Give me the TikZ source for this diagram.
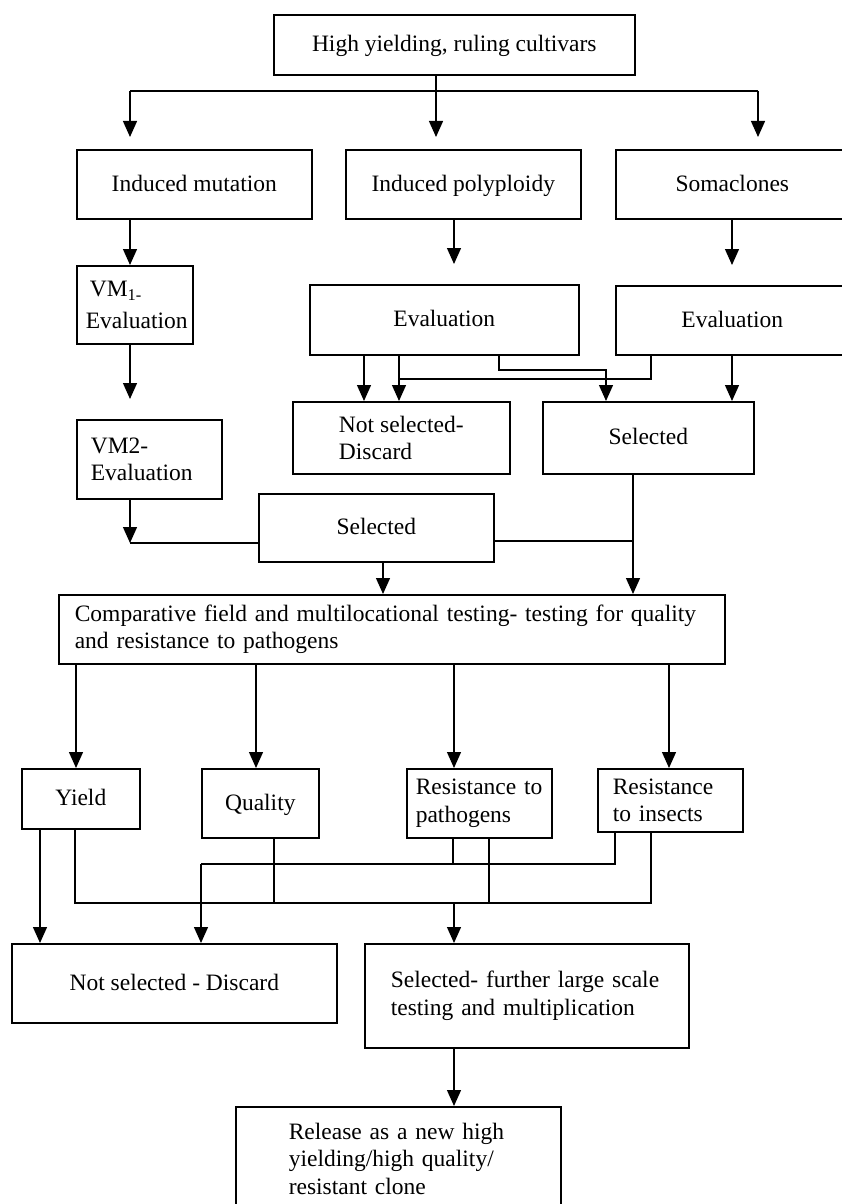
\documentclass[tikz,border=0pt]{standalone}
\usepackage{fontspec}
\setmainfont{Liberation Serif}
\usetikzlibrary{arrows.meta}
\begin{document}
\begin{tikzpicture}[x=1pt,y=-1pt,
  bx/.style={draw=black, line width=1.6pt, inner sep=0pt, anchor=north west,
    font=\fontsize{23.5}{27.5}\selectfont, align=center},
  one/.style={text height=18pt, text depth=4pt},
  ln/.style={line width=1.3pt},
  arr/.style={line width=1.3pt, -{Triangle[width=14pt,length=16pt]}}]
\useasboundingbox (0,0) rectangle (842,1204);

% boxes
\node[bx, one, minimum width=361, minimum height=60] (top) at (273,14) {High yielding, ruling cultivars};
\node[bx, one, minimum width=235, minimum height=69] (mut) at (76,149) {Induced mutation};
\node[bx, one, minimum width=235, minimum height=69] (poly) at (345,149) {Induced polyploidy};
\node[bx, one, minimum width=233, minimum height=69] (soma) at (615,149) {Somaclones};
\node[bx, minimum width=116, minimum height=78, text width=98, align=left] (vm1) at (76,265) {\hspace*{4pt}VM\textsubscript{1-}\\[4pt]Evaluation};
\node[bx, minimum width=145, minimum height=79, text width=117, align=left] (vm2) at (76,419) {VM2-\\Evaluation};
\node[bx, one, minimum width=269, minimum height=70] (evp) at (309,284) {Evaluation};
\node[bx, one, minimum width=233, minimum height=69] (evs) at (615,285) {Evaluation};
\node[bx, minimum width=217, minimum height=72, align=left] (nsd1) at (292,401) {Not selected-\\Discard};
\node[bx, one, minimum width=211, minimum height=72] (sel1) at (542,401) {Selected};
\node[bx, one, minimum width=235, minimum height=68] (sel2) at (258,493) {Selected};
\node[bx, minimum width=666, minimum height=69, text width=634, align=left] (comp) at (58,594) {Comparative field and multilocational testing- testing for quality\\and resistance to pathogens};
\node[bx, one, minimum width=118, minimum height=60] (yield) at (21,768) {Yield};
\node[bx, one, minimum width=117, minimum height=69] (qual) at (201,768) {Quality};
\node[bx, minimum width=145, minimum height=69, text width=127, align=left] (rp) at (406,768) {Resistance to\\pathogens};
\node[bx, minimum width=145, minimum height=63, text width=115, align=left] (ri) at (597,768) {Resistance\\to insects};
\node[bx, one, minimum width=325, minimum height=79] (nsd2) at (11,943) {Not selected - Discard};
\node[bx, minimum width=324, minimum height=104, text width=272, align=left] (sfur) at (364,943) {Selected- further large scale\\testing and multiplication};
\node[bx, minimum width=325, minimum height=104, text width=219, align=left] (rel) at (235,1106) {Release as a new high\\yielding/high quality/\\resistant clone};

% top fan
\coordinate (a1) at (436,91);
\coordinate (aL) at (130,91);
\coordinate (aR) at (758,91);
\draw[arr, shorten >=12pt] (top.south -| a1) -- (a1 |- poly.north);
\draw[ln] (aL) -- (aR);
\draw[arr, shorten >=12pt] (aL) -- (aL |- mut.north);
\draw[arr, shorten >=12pt] (aR) -- (aR |- soma.north);

% second row to evaluations
\draw[arr] (mut.south -| aL) -- (aL |- vm1.north);
\coordinate (xp) at (454,0);
\draw[arr, shorten >=20pt] (poly.south -| xp) -- (xp |- evp.north);
\coordinate (xs) at (732,0);
\draw[arr, shorten >=20pt] (soma.south -| xs) -- (xs |- evs.north);
\draw[arr, shorten >=20pt] (vm1.south -| aL) -- (aL |- vm2.north);

% evaluation branches
\coordinate (b1) at (364,0);
\coordinate (b2) at (399,379);
\draw[arr] (evp.south -| b1) -- (b1 |- nsd1.north);
\draw[arr] (evp.south -| b2) -- (b2 |- nsd1.north);
\coordinate (b3) at (499,370);
\coordinate (b4) at (606,370);
\draw[arr] (evp.south -| b3) -- (b3) -- (b4) -- (b4 |- sel1.north);
\coordinate (b5) at (651,379);
\draw[ln] (evs.south -| b5) -- (b5) -- (b2);
\draw[arr] (evs.south -| xs) -- (xs |- sel1.north);

% selected to comparative
\coordinate (c1) at (633,541);
\draw[arr] (sel1.south -| c1) -- (c1 |- comp.north);
\draw[ln] (sel2.east |- c1) -- (c1);
\coordinate (c2) at (383,0);
\draw[arr] (sel2.south -| c2) -- (c2 |- comp.north);
\coordinate (c3) at (130,543);
\draw[arr] (vm2.south -| c3) -- (c3);
\draw[ln] (c3) -- (c3 -| sel2.west);

% comparative to four criteria
\coordinate (d1) at (76,0);
\coordinate (d2) at (256,0);
\coordinate (d3) at (454,0);
\coordinate (d4) at (669,0);
\draw[arr] (comp.south -| d1) -- (d1 |- yield.north);
\draw[arr] (comp.south -| d2) -- (d2 |- qual.north);
\draw[arr] (comp.south -| d3) -- (d3 |- rp.north);
\draw[arr] (comp.south -| d4) -- (d4 |- ri.north);

% bottom network
\coordinate (e1) at (40,0);
\draw[arr] (yield.south -| e1) -- (e1 |- nsd2.north);
\coordinate (e2) at (75,903);
\coordinate (e3) at (651,903);
\draw[ln] (yield.south -| e2) -- (e2) -- (e3) -- (e3 |- ri.south);
\coordinate (e4) at (274,0);
\draw[ln] (qual.south -| e4) -- (e4 |- e2);
\coordinate (f1) at (201,864);
\coordinate (f2) at (615,864);
\draw[ln] (ri.south -| f2) -- (f2) -- (f1);
\draw[arr] (f1) -- (f1 |- nsd2.north);
\coordinate (e5) at (453,0);
\draw[ln] (rp.south -| e5) -- (e5 |- f1);
\coordinate (e6) at (489,0);
\draw[ln] (rp.south -| e6) -- (e6 |- e2);
\coordinate (g1) at (454,903);
\draw[arr] (g1) -- (g1 |- sfur.north);
\draw[arr] (sfur.south -| g1) -- (g1 |- rel.north);
\end{tikzpicture}
\end{document}
